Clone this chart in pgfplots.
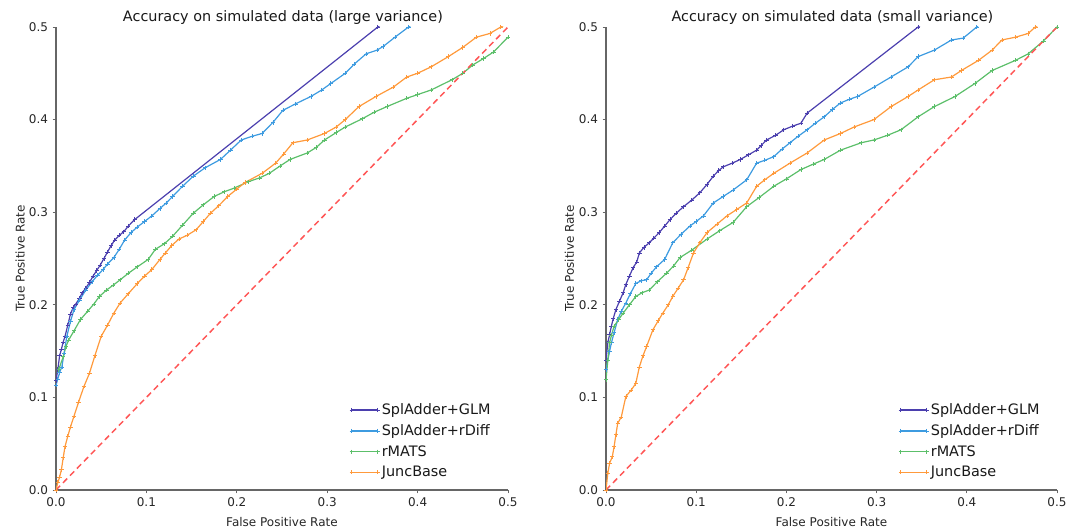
\documentclass[border=0pt]{standalone}
\usepackage{pgfplots}
\pgfplotsset{compat=1.18}
\usepackage{fontspec}
\setmainfont{DejaVu Sans}
\definecolor{cglm}{HTML}{4B3FAE}
\definecolor{crdiff}{HTML}{3D9BE0}
\definecolor{crmats}{HTML}{5CBF6A}
\definecolor{cjunc}{HTML}{FF9A3C}
\definecolor{cdiag}{HTML}{FF5555}
\definecolor{caxis}{HTML}{666666}
\pgfplotsset{
  rocaxis/.style={
    scale only axis,
    height=347.25pt,
    xmin=0, xmax=0.5, ymin=0, ymax=0.5,
    axis x line*=bottom, axis y line*=left,
    axis line style={draw=caxis, line width=1.2pt, -},
    tick style={draw=caxis, line width=0.6pt},
    tick align=outside, major tick length=2.5pt,
    xtick={0,0.1,0.2,0.3,0.4,0.5}, ytick={0,0.1,0.2,0.3,0.4,0.5},
    xticklabels={0.0,0.1,0.2,0.3,0.4,0.5},
    yticklabels={0.0,0.1,0.2,0.3,0.4,0.5},
    ticklabel style={font=\fontsize{9}{10}\selectfont, text=black!85},
    /pgf/number format/assume math mode=true,
    xlabel={False Positive Rate}, ylabel={True Positive Rate},
    label style={font=\fontsize{9}{10}\selectfont, text=black!85},
    xlabel style={at={(axis description cs:0.5,0)}, anchor=base, yshift=-27.75pt},
    title style={at={(axis description cs:0.502,1)}, anchor=base, yshift=-2.25pt, font=\fontsize{10.8}{12}\selectfont, text=black!90},
    legend style={at={(axis description cs:0.975,0.014)}, anchor=south east, draw=none, fill=none,
      font=\fontsize{10.8}{12}\selectfont, row sep=3pt, text=black!90,
      nodes={inner sep=1.5pt}},
    legend cell align=left,
    legend image code/.code={\draw[mark repeat=2,mark phase=1,#1] plot coordinates {(0pt,0pt) (9.75pt,0pt) (19.5pt,0pt)};},
    every axis plot/.append style={line width=0.9pt, mark=+, mark size=1.6pt, mark options={line width=0.5pt}},
    clip=true,
  }
}
\begin{document}
\begin{tikzpicture}
\path[use as bounding box] (-42pt,-30pt) rectangle (757.5pt,367.5pt);
% ---------------- left panel ----------------
\begin{axis}[rocaxis, width=339pt, at={(0pt,0pt)}, anchor=origin,
  title={Accuracy on simulated data (large variance)},
  ylabel style={at={(axis description cs:-0.0696,0.5)}, anchor=base}]
\addplot[cglm] coordinates {(0,0.118)(0.002,0.13)(0.004,0.145)(0.006,0.152)(0.008,0.16)(0.01,0.166)(0.013,0.178)(0.016,0.19)(0.019,0.197)(0.022,0.201)(0.026,0.207)(0.029,0.213)(0.033,0.218)(0.037,0.224)(0.041,0.231)(0.045,0.237)(0.049,0.243)(0.053,0.25)(0.057,0.257)(0.061,0.264)(0.065,0.27)(0.07,0.275)(0.075,0.279)(0.08,0.285)(0.087,0.292)(0.356,0.5)(0.40,0.534)};
\addlegendentry{SplAdder+GLM}
\addplot[crdiff] coordinates {(0,0.113)(0.002,0.12)(0.004,0.127)(0.0065,0.133)(0.009,0.148)(0.012,0.166)(0.016,0.182)(0.02,0.195)(0.026,0.205)(0.033,0.216)(0.04,0.225)(0.046,0.232)(0.052,0.238)(0.057,0.244)(0.064,0.251)(0.07,0.26)(0.076,0.27)(0.083,0.278)(0.09,0.284)(0.098,0.29)(0.106,0.296)(0.115,0.304)(0.122,0.31)(0.129,0.317)(0.14,0.328)(0.152,0.339)(0.165,0.348)(0.182,0.357)(0.193,0.367)(0.205,0.378)(0.217,0.382)(0.228,0.385)(0.24,0.397)(0.251,0.41)(0.265,0.417)(0.282,0.425)(0.294,0.432)(0.304,0.439)(0.32,0.45)(0.33,0.46)(0.343,0.471)(0.355,0.475)(0.362,0.479)(0.375,0.489)(0.39,0.5)(0.41,0.515)};
\addlegendentry{SplAdder+rDiff}
\addplot[crmats] coordinates {(0.003,0.13)(0.008,0.144)(0.011,0.155)(0.014,0.162)(0.02,0.172)(0.027,0.184)(0.035,0.193)(0.042,0.201)(0.048,0.209)(0.056,0.216)(0.063,0.221)(0.071,0.227)(0.08,0.234)(0.09,0.241)(0.102,0.249)(0.11,0.26)(0.12,0.266)(0.129,0.274)(0.14,0.286)(0.152,0.299)(0.163,0.308)(0.175,0.317)(0.186,0.322)(0.197,0.326)(0.213,0.333)(0.225,0.337)(0.236,0.342)(0.248,0.35)(0.259,0.357)(0.278,0.364)(0.288,0.37)(0.297,0.378)(0.31,0.386)(0.32,0.392)(0.339,0.401)(0.352,0.408)(0.366,0.414)(0.388,0.423)(0.4,0.427)(0.415,0.432)(0.438,0.443)(0.45,0.45)(0.461,0.459)(0.473,0.466)(0.484,0.473)(0.5,0.489)};
\addlegendentry{rMATS}
\addplot[cjunc] coordinates {(0,0)(0.002,0.008)(0.004,0.014)(0.006,0.022)(0.008,0.035)(0.01,0.047)(0.013,0.058)(0.016,0.068)(0.02,0.08)(0.025,0.095)(0.031,0.112)(0.037,0.126)(0.043,0.145)(0.05,0.166)(0.057,0.178)(0.064,0.191)(0.071,0.202)(0.08,0.212)(0.09,0.223)(0.098,0.231)(0.106,0.238)(0.115,0.249)(0.121,0.256)(0.128,0.264)(0.136,0.271)(0.145,0.275)(0.155,0.281)(0.163,0.29)(0.171,0.299)(0.18,0.307)(0.19,0.317)(0.2,0.325)(0.209,0.332)(0.228,0.342)(0.243,0.353)(0.252,0.363)(0.262,0.375)(0.278,0.378)(0.297,0.385)(0.31,0.392)(0.32,0.4)(0.335,0.414)(0.354,0.425)(0.373,0.435)(0.388,0.446)(0.4,0.45)(0.415,0.457)(0.434,0.468)(0.45,0.478)(0.465,0.489)(0.48,0.493)(0.492,0.5)(0.51,0.51)};
\addlegendentry{JuncBase}
\addplot[cdiag, no markers, dashed, line width=1.1pt, dash pattern=on 4.5pt off 3pt] coordinates {(0,0)(0.5,0.5)};
\end{axis}
% ---------------- right panel ----------------
\begin{axis}[rocaxis, width=338.25pt, at={(412.5pt,0pt)}, anchor=origin,
  title={Accuracy on simulated data (small variance)},
  ylabel style={at={(axis description cs:-0.071,0.5)}, anchor=base}]
\addplot[cglm] coordinates {(0,0.14)(0.002,0.159)(0.004,0.168)(0.006,0.177)(0.008,0.185)(0.011,0.195)(0.015,0.204)(0.019,0.213)(0.022,0.222)(0.026,0.231)(0.03,0.24)(0.034,0.246)(0.037,0.256)(0.042,0.262)(0.048,0.267)(0.053,0.272)(0.059,0.278)(0.065,0.285)(0.071,0.292)(0.078,0.299)(0.086,0.306)(0.095,0.313)(0.104,0.321)(0.112,0.33)(0.119,0.339)(0.125,0.345)(0.13,0.349)(0.14,0.353)(0.149,0.357)(0.158,0.362)(0.167,0.367)(0.172,0.372)(0.178,0.378)(0.188,0.383)(0.197,0.389)(0.207,0.393)(0.216,0.396)(0.223,0.407)(0.346,0.5)(0.39,0.533)};
\addlegendentry{SplAdder+GLM}
\addplot[crdiff] coordinates {(0,0.13)(0.002,0.14)(0.004,0.15)(0.006,0.159)(0.009,0.17)(0.013,0.184)(0.017,0.193)(0.022,0.202)(0.027,0.212)(0.033,0.223)(0.039,0.226)(0.045,0.227)(0.05,0.234)(0.056,0.241)(0.065,0.249)(0.074,0.267)(0.083,0.276)(0.093,0.285)(0.1,0.29)(0.108,0.296)(0.119,0.31)(0.13,0.317)(0.141,0.324)(0.156,0.335)(0.167,0.353)(0.176,0.356)(0.186,0.36)(0.195,0.368)(0.204,0.375)(0.213,0.382)(0.223,0.389)(0.232,0.396)(0.242,0.403)(0.251,0.411)(0.26,0.418)(0.27,0.422)(0.279,0.425)(0.297,0.435)(0.316,0.446)(0.335,0.457)(0.346,0.468)(0.364,0.475)(0.383,0.486)(0.396,0.488)(0.411,0.5)(0.43,0.52)};
\addlegendentry{SplAdder+rDiff}
\addplot[crmats] coordinates {(0,0.119)(0.002,0.14)(0.004,0.159)(0.006,0.167)(0.009,0.177)(0.014,0.184)(0.019,0.191)(0.026,0.2)(0.033,0.209)(0.04,0.213)(0.048,0.216)(0.057,0.225)(0.067,0.234)(0.075,0.242)(0.082,0.251)(0.095,0.259)(0.112,0.271)(0.126,0.28)(0.141,0.289)(0.156,0.306)(0.17,0.316)(0.186,0.328)(0.2,0.336)(0.216,0.346)(0.23,0.352)(0.242,0.357)(0.26,0.367)(0.283,0.375)(0.297,0.378)(0.312,0.383)(0.327,0.389)(0.346,0.403)(0.364,0.414)(0.387,0.425)(0.409,0.439)(0.428,0.453)(0.454,0.464)(0.468,0.471)(0.485,0.485)(0.5,0.5)};
\addlegendentry{rMATS}
\addplot[cjunc] coordinates {(0,0)(0.002,0.018)(0.004,0.029)(0.007,0.036)(0.009,0.047)(0.011,0.06)(0.013,0.072)(0.017,0.079)(0.022,0.101)(0.028,0.108)(0.033,0.115)(0.037,0.133)(0.041,0.145)(0.045,0.155)(0.052,0.173)(0.058,0.183)(0.063,0.191)(0.069,0.2)(0.074,0.209)(0.08,0.218)(0.086,0.227)(0.091,0.24)(0.097,0.256)(0.104,0.267)(0.112,0.278)(0.123,0.287)(0.134,0.296)(0.145,0.303)(0.156,0.31)(0.167,0.328)(0.176,0.335)(0.186,0.342)(0.204,0.353)(0.223,0.364)(0.242,0.378)(0.26,0.385)(0.275,0.392)(0.297,0.4)(0.316,0.414)(0.335,0.425)(0.346,0.432)(0.364,0.443)(0.383,0.446)(0.394,0.453)(0.413,0.464)(0.428,0.475)(0.439,0.486)(0.454,0.489)(0.468,0.493)(0.476,0.5)(0.49,0.51)};
\addlegendentry{JuncBase}
\addplot[cdiag, no markers, dashed, line width=1.1pt, dash pattern=on 4.5pt off 3pt] coordinates {(0,0)(0.5,0.5)};
\end{axis}
\end{tikzpicture}
\end{document}
